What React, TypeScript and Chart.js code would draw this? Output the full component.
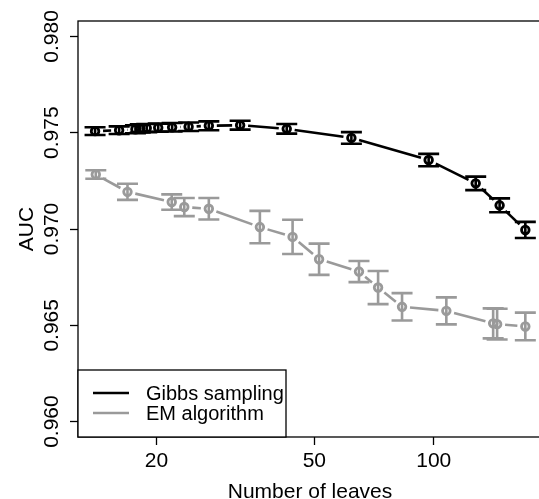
import { useEffect, useRef } from 'react';
import { Chart, registerables } from 'chart.js';
Chart.register(...registerables);

// ---- data ----
const seriesNames = ['Gibbs sampling', 'EM algorithm'];
const seriesColors = ['#000000', '#9a9a9a'];

const gibbsLeaves = [14.0, 16.1, 17.7, 18.2, 18.9, 20.2, 21.9, 24.1, 27.1, 32.5, 42.6, 62.0, 97.1, 127.6, 146.6, 170.2];
const gibbsAUC = [0.97508, 0.97513, 0.97518, 0.97522, 0.97524, 0.97526, 0.97528, 0.97531, 0.97536, 0.97539, 0.9752, 0.97473, 0.97358, 0.97237, 0.97123, 0.96995];
const gibbsErr = [0.0002, 0.0002, 0.00021, 0.00021, 0.00021, 0.00021, 0.00022, 0.00022, 0.00023, 0.00023, 0.00025, 0.0003, 0.00032, 0.00035, 0.00036, 0.00042];

const emLeaves = [14.06, 16.9, 21.85, 23.5, 27.1, 36.45, 44.07, 51.4, 64.8, 72.4, 83.2, 107.6, 141.2, 144.5, 170.2];
const emAUC = [0.97283, 0.97193, 0.9714, 0.97114, 0.97105, 0.9701, 0.96959, 0.96843, 0.96779, 0.96696, 0.96596, 0.96575, 0.9651, 0.96506, 0.96494];
const emErr = [0.00022, 0.00042, 0.0004, 0.00047, 0.00056, 0.00084, 0.00089, 0.00081, 0.00055, 0.00086, 0.00071, 0.0007, 0.00078, 0.0008, 0.00072];

const xTickValues = [20, 50, 100];
const xTickLabels = ['20', '50', '100'];
const yTickValues = [0.96, 0.965, 0.97, 0.975, 0.98];
const yTickLabels = ['0.960', '0.965', '0.970', '0.975', '0.980'];
const xTitle = 'Number of leaves';
const yTitle = 'AUC';

const series = [
  { name: seriesNames[0], color: seriesColors[0], x: gibbsLeaves, y: gibbsAUC, e: gibbsErr },
  { name: seriesNames[1], color: seriesColors[1], x: emLeaves, y: emAUC, e: emErr },
];

const FONT = '"Liberation Sans", Arial, Helvetica, sans-serif';

const customPlugin = {
  id: 'custom',
  beforeDatasetsDraw(chart: any) {
    const { ctx, chartArea, scales } = chart;
    const xs = scales.x, ys = scales.y;
    ctx.save();
    ctx.beginPath();
    ctx.rect(chartArea.left, chartArea.top, chartArea.right - chartArea.left, chartArea.bottom - chartArea.top);
    ctx.clip();
    const gap = 8;
    const capHalf = 10.5;
    series.forEach((s) => {
      ctx.strokeStyle = s.color;
      ctx.lineWidth = 2.6;
      ctx.lineCap = 'butt';
      // error bars
      for (let i = 0; i < s.x.length; i++) {
        const px = xs.getPixelForValue(s.x[i]);
        const y1 = ys.getPixelForValue(s.y[i] - s.e[i]);
        const y2 = ys.getPixelForValue(s.y[i] + s.e[i]);
        ctx.beginPath();
        ctx.moveTo(px, y1);
        ctx.lineTo(px, y2);
        ctx.moveTo(px - capHalf, y1);
        ctx.lineTo(px + capHalf, y1);
        ctx.moveTo(px - capHalf, y2);
        ctx.lineTo(px + capHalf, y2);
        ctx.stroke();
      }
      // connecting segments with gaps (type "b")
      for (let i = 0; i < s.x.length - 1; i++) {
        const x0 = xs.getPixelForValue(s.x[i]);
        const y0 = ys.getPixelForValue(s.y[i]);
        const x1 = xs.getPixelForValue(s.x[i + 1]);
        const y1 = ys.getPixelForValue(s.y[i + 1]);
        const dx = x1 - x0, dy = y1 - y0;
        const len = Math.hypot(dx, dy);
        if (len <= 2 * gap) continue;
        const ux = dx / len, uy = dy / len;
        ctx.beginPath();
        ctx.moveTo(x0 + ux * gap, y0 + uy * gap);
        ctx.lineTo(x1 - ux * gap, y1 - uy * gap);
        ctx.stroke();
      }
    });
    ctx.restore();
  },
  afterDraw(chart: any) {
    const { ctx, chartArea, scales } = chart;
    const { left, top, right, bottom } = chartArea;
    const xs = scales.x, ys = scales.y;
    ctx.save();
    // box
    ctx.strokeStyle = '#000';
    ctx.lineWidth = 1.3;
    ctx.strokeRect(left, top, right - left, bottom - top);

    ctx.fillStyle = '#000';
    // y tick labels (rotated)
    ctx.font = `21px ${FONT}`;
    ctx.textAlign = 'center';
    ctx.textBaseline = 'alphabetic';
    yTickValues.forEach((v, i) => {
      const py = ys.getPixelForValue(v);
      ctx.save();
      ctx.translate(58, py);
      ctx.rotate(-Math.PI / 2);
      ctx.fillText(yTickLabels[i], 0, 0);
      ctx.restore();
    });
    // y title
    ctx.save();
    ctx.translate(33, (top + bottom) / 2);
    ctx.rotate(-Math.PI / 2);
    ctx.fillText(yTitle, 0, 0);
    ctx.restore();
    // x tick labels
    xTickValues.forEach((v, i) => {
      const px = xs.getPixelForValue(v);
      ctx.fillText(xTickLabels[i], px, 467);
    });
    // x title
    ctx.fillText(xTitle, (left + right) / 2, 498);

    // legend
    const lx0 = left, ly0 = 370, lx1 = 286, ly1 = bottom;
    ctx.fillStyle = '#fff';
    ctx.fillRect(lx0, ly0, lx1 - lx0, ly1 - ly0);
    ctx.strokeStyle = '#000';
    ctx.lineWidth = 1.3;
    ctx.strokeRect(lx0, ly0, lx1 - lx0, ly1 - ly0);
    ctx.font = `20px ${FONT}`;
    ctx.textAlign = 'left';
    ctx.textBaseline = 'middle';
    series.forEach((s, i) => {
      const yy = 393 + i * 20;
      ctx.strokeStyle = s.color;
      ctx.lineWidth = 2.6;
      ctx.beginPath();
      ctx.moveTo(93, yy);
      ctx.lineTo(129, yy);
      ctx.stroke();
      ctx.fillStyle = '#000';
      ctx.fillText(s.name, 146, yy + 1);
    });
    ctx.restore();
  },
};

export default function App() {
  const ref = useRef<HTMLCanvasElement>(null);
  useEffect(() => {
    const canvas = ref.current!;
    const chart = new Chart(canvas, {
      type: 'scatter',
      data: {
        datasets: series.map((s) => ({
          label: s.name,
          data: s.x.map((x, i) => ({ x, y: s.y[i] })),
          showLine: false,
          pointStyle: 'circle',
          pointRadius: 3.8,
          pointBorderWidth: 2.8,
          pointBorderColor: s.color,
          pointBackgroundColor: 'rgba(0,0,0,0)',
        })),
      },
      options: {
        animation: false,
        responsive: false,
        devicePixelRatio: 1,
        layout: { padding: { top: 21, right: 18, left: 0, bottom: 0 } },
        plugins: { legend: { display: false }, tooltip: { enabled: false } },
        scales: {
          x: {
            type: 'logarithmic',
            min: 12.68,
            max: 187.5,
            afterBuildTicks: (scale: any) => {
              scale.ticks = xTickValues.map((v) => ({ value: v }));
            },
            afterFit: (scale: any) => {
              scale.height = 62;
            },
            ticks: { display: false },
            border: { display: false },
            grid: {
              drawOnChartArea: false,
              drawTicks: true,
              tickLength: 8,
              tickColor: '#000',
              tickWidth: 1.3,
            },
          },
          y: {
            type: 'linear',
            min: 0.9592,
            max: 0.9808,
            afterBuildTicks: (scale: any) => {
              scale.ticks = yTickValues.map((v) => ({ value: v }));
            },
            afterFit: (scale: any) => {
              scale.width = 78;
            },
            ticks: { display: false },
            border: { display: false },
            grid: {
              drawOnChartArea: false,
              drawTicks: true,
              tickLength: 8,
              tickColor: '#000',
              tickWidth: 1.3,
            },
          },
        },
      },
      plugins: [customPlugin],
    } as any);
    return () => chart.destroy();
  }, []);
  return (
    <div style={{ position: 'absolute', left: 0, top: 0, width: 539, height: 499, overflow: 'hidden', background: '#fff' }}>
      <canvas ref={ref} width={560} height={499} style={{ display: 'block', width: 560, height: 499 }} />
    </div>
  );
}
